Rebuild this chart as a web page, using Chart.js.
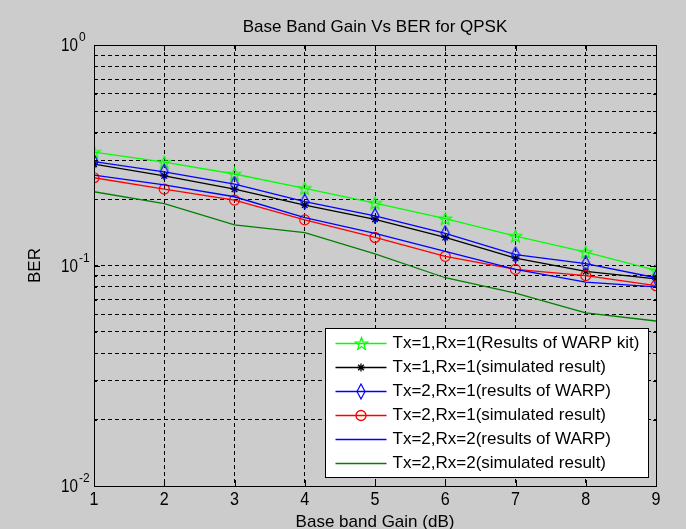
<!DOCTYPE html>
<html>
<head>
<meta charset="utf-8">
<title>Base Band Gain Vs BER for QPSK</title>
<script src="https://cdn.jsdelivr.net/npm/chart.js@4.4.1/dist/chart.umd.min.js"></script>
<style>
  html, body { margin: 0; padding: 0; background: #cccccc; }
  #berChart { display: block; }
</style>
</head>
<body>
<canvas id="berChart" width="686" height="529"></canvas>
<script>
// base band gain (dB) on the x axis
const gainDb = [1, 2, 3, 4, 5, 6, 7, 8, 9];

// measured / simulated BER per gain step
const warpKit11 = [0.327, 0.294, 0.260, 0.224, 0.192, 0.163, 0.136, 0.115, 0.095];
const sim11     = [0.288, 0.255, 0.222, 0.188, 0.162, 0.134, 0.108, 0.094, 0.087];
const warp21    = [0.296, 0.266, 0.234, 0.195, 0.168, 0.140, 0.112, 0.102, 0.088];
const sim21     = [0.250, 0.222, 0.198, 0.161, 0.134, 0.110, 0.096, 0.090, 0.081];
const warp22    = [0.257, 0.232, 0.205, 0.165, 0.140, 0.116, 0.096, 0.084, 0.080];
const sim22     = [0.216, 0.191, 0.153, 0.141, 0.113, 0.088, 0.075, 0.061, 0.056];

const seriesNames = [
  'Tx=1,Rx=1(Results of WARP kit)',
  'Tx=1,Rx=1(simulated result)',
  'Tx=2,Rx=1(results of WARP)',
  'Tx=2,Rx=1(simulated result)',
  'Tx=2,Rx=2(results of WARP)',
  'Tx=2,Rx=2(simulated result)'
];

// axis ticks
const xTicks = [1, 2, 3, 4, 5, 6, 7, 8, 9];
const yDecades = [0.01, 0.1, 1];
const yExponents = ['-2', '-1', '0'];
const yMinorSteps = [1, 2, 3, 4, 5, 6, 7, 8, 9];

const FONT = '"Liberation Sans", Arial, Helvetica, sans-serif';

// log grid: 1..9 x each decade, plus the top decade
const yGridValues = [];
yDecades.forEach(function(d, i) {
  if (i === yDecades.length - 1) { yGridValues.push(d); return; }
  yMinorSteps.forEach(function(m) { yGridValues.push(+(m * d).toPrecision(3)); });
});

// hollow pentagram marker
function starMarker(color) {
  const c = document.createElement('canvas');
  c.width = 15; c.height = 15;
  const g = c.getContext('2d');
  g.strokeStyle = color;
  g.lineWidth = 1.2;
  g.beginPath();
  for (let i = 0; i < 10; i++) {
    const r = i % 2 === 0 ? 6.5 : 2.7;
    const a = -Math.PI / 2 + i * Math.PI / 5;
    const px = 7.5 + r * Math.cos(a), py = 8 + r * Math.sin(a);
    if (i === 0) g.moveTo(px, py); else g.lineTo(px, py);
  }
  g.closePath();
  g.stroke();
  return c;
}

// tall hollow diamond marker
function diamondMarker(color) {
  const c = document.createElement('canvas');
  c.width = 10; c.height = 17;
  const g = c.getContext('2d');
  g.strokeStyle = color;
  g.lineWidth = 1.2;
  g.beginPath();
  g.moveTo(5, 1); g.lineTo(9, 8.5); g.lineTo(5, 16); g.lineTo(1, 8.5);
  g.closePath();
  g.stroke();
  return c;
}

function toPoints(values) {
  return values.map(function(v, i) { return { x: gainDb[i], y: v }; });
}

const seriesValues = [warpKit11, sim11, warp21, sim21, warp22, sim22];
const seriesColors = ['#00ff00', '#000000', '#0000ff', '#ff0000', '#0000ff', '#008000'];
const seriesMarkers = [starMarker('#00ff00'), 'star', diamondMarker('#0000ff'), 'circle', false, false];
const seriesRadius = [7, 4, 8, 5, 0, 0];

const datasets = seriesValues.map(function(vals, i) {
  return {
    label: seriesNames[i],
    data: toPoints(vals),
    borderColor: seriesColors[i],
    backgroundColor: 'rgba(0,0,0,0)',
    borderWidth: 1.3,
    pointStyle: seriesMarkers[i],
    pointRadius: seriesRadius[i],
    pointBorderColor: seriesColors[i],
    pointBorderWidth: 1.2,
    pointBackgroundColor: 'rgba(0,0,0,0)',
    tension: 0,
    fill: false,
    order: seriesValues.length - i
  };
});

function drawSample(ctx, i, x0, x1, y) {
  ctx.save();
  ctx.strokeStyle = seriesColors[i];
  ctx.lineWidth = 1.3;
  ctx.beginPath();
  ctx.moveTo(x0, y); ctx.lineTo(x1, y);
  ctx.stroke();
  const mx = (x0 + x1) / 2;
  const m = seriesMarkers[i];
  if (m && typeof m === 'object') {
    ctx.drawImage(m, Math.round(mx - m.width / 2), Math.round(y - m.height / 2));
  } else if (m === 'circle') {
    ctx.beginPath();
    ctx.arc(mx, y, seriesRadius[i], 0, Math.PI * 2);
    ctx.stroke();
  } else if (m === 'star') {
    const r = seriesRadius[i];
    ctx.beginPath();
    ctx.moveTo(mx - r, y); ctx.lineTo(mx + r, y);
    ctx.moveTo(mx, y - r); ctx.lineTo(mx, y + r);
    const d = r * Math.SQRT1_2;
    ctx.moveTo(mx - d, y - d); ctx.lineTo(mx + d, y + d);
    ctx.moveTo(mx - d, y + d); ctx.lineTo(mx + d, y - d);
    ctx.stroke();
  }
  ctx.restore();
}

// frame, inward ticks, labels, titles and the boxed legend
const matlabAxes = {
  id: 'matlabAxes',
  afterDatasetsDraw: function(chart) {
    const ctx = chart.ctx;
    const a = chart.chartArea;
    const xs = chart.scales.x, ys = chart.scales.y;
    ctx.save();

    // ticks on all four sides
    ctx.strokeStyle = '#000';
    ctx.lineWidth = 1;
    ctx.beginPath();
    xTicks.forEach(function(t) {
      const px = Math.round(xs.getPixelForValue(t)) + 0.5;
      ctx.moveTo(px, a.bottom); ctx.lineTo(px, a.bottom - 6);
      ctx.moveTo(px, a.top); ctx.lineTo(px, a.top + 6);
    });
    yGridValues.forEach(function(v) {
      const py = Math.round(ys.getPixelForValue(v)) + 0.5;
      const len = yDecades.indexOf(v) >= 0 ? 6 : 3;
      ctx.moveTo(a.left, py); ctx.lineTo(a.left + len, py);
      ctx.moveTo(a.right, py); ctx.lineTo(a.right - len, py);
    });
    ctx.stroke();

    // solid box
    ctx.strokeRect(Math.round(a.left) + 0.5, Math.round(a.top) + 0.5,
                   Math.round(a.right - a.left), Math.round(a.bottom - a.top));

    // x tick labels (tall, narrow digits)
    ctx.fillStyle = '#000';
    ctx.textAlign = 'center';
    ctx.textBaseline = 'middle';
    xTicks.forEach(function(t) {
      ctx.save();
      ctx.translate(xs.getPixelForValue(t), a.bottom + 14);
      ctx.scale(0.85, 1);
      ctx.font = '19px ' + FONT;
      ctx.fillText(String(t), 0, 0);
      ctx.restore();
    });

    // y tick labels as 10^n
    yDecades.forEach(function(v, i) {
      const py = ys.getPixelForValue(v);
      const leftEdge = a.left - 33;
      ctx.save();
      ctx.translate(leftEdge, py + 1);
      ctx.scale(0.8, 1);
      ctx.font = '19px ' + FONT;
      ctx.textAlign = 'left';
      const wb = ctx.measureText('10').width * 0.8;
      ctx.fillText('10', 0, 0);
      ctx.restore();
      ctx.font = '12px ' + FONT;
      ctx.textAlign = 'left';
      ctx.fillText(yExponents[i], leftEdge + wb + 1, py - 7);
    });

    // title and axis names
    ctx.font = '17px ' + FONT;
    ctx.textAlign = 'center';
    ctx.fillText('Base Band Gain Vs BER for QPSK', (a.left + a.right) / 2, a.top - 18);
    ctx.fillText('Base band Gain (dB)', (a.left + a.right) / 2, a.bottom + 36);
    ctx.save();
    ctx.translate(a.left - 59, (a.top + a.bottom) / 2);
    ctx.rotate(-Math.PI / 2);
    ctx.fillText('BER', 0, 0);
    ctx.restore();

    // legend box in the lower right corner
    ctx.font = '17px ' + FONT;
    let textW = 0;
    seriesNames.forEach(function(n) { textW = Math.max(textW, ctx.measureText(n).width); });
    const rowH = 24;
    const boxW = Math.round(67 + textW + 9);
    const boxH = rowH * seriesNames.length + 5;
    const bx = Math.round(a.right - 8 - boxW) + 0.5;
    const by = Math.round(a.bottom - 9 - boxH) + 0.5;
    ctx.fillStyle = '#ffffff';
    ctx.fillRect(bx, by, boxW, boxH);
    ctx.strokeStyle = '#000';
    ctx.strokeRect(bx, by, boxW, boxH);
    seriesNames.forEach(function(n, i) {
      const cy = by + 15 + i * rowH;
      drawSample(ctx, i, bx + 10, bx + 61, cy);
      ctx.fillStyle = '#000';
      ctx.textAlign = 'left';
      ctx.textBaseline = 'middle';
      ctx.fillText(n, bx + 67, cy);
    });

    ctx.restore();
  }
};

const chart = new Chart(document.getElementById('berChart'), {
  type: 'line',
  data: { datasets: datasets },
  options: {
    responsive: false,
    animation: false,
    devicePixelRatio: 1,
    layout: { padding: { left: 94, top: 45, right: 30, bottom: 43 } },
    plugins: {
      legend: { display: false },
      tooltip: { enabled: false },
      title: { display: false }
    },
    scales: {
      x: {
        type: 'linear',
        min: 1,
        max: 9,
        ticks: { display: false, stepSize: 1 },
        afterBuildTicks: function(scale) {
          scale.ticks = xTicks.map(function(t) { return { value: t }; });
        },
        grid: { color: '#000', lineWidth: 1, drawTicks: false },
        border: { display: false, dash: [4, 3] }
      },
      y: {
        type: 'logarithmic',
        min: 0.01,
        max: 1,
        ticks: { display: false },
        afterBuildTicks: function(scale) {
          scale.ticks = yGridValues.map(function(v) { return { value: v }; });
        },
        grid: { color: '#000', lineWidth: 1, drawTicks: false },
        border: { display: false, dash: [4, 3] }
      }
    }
  },
  plugins: [matlabAxes]
});
</script>
</body>
</html>
